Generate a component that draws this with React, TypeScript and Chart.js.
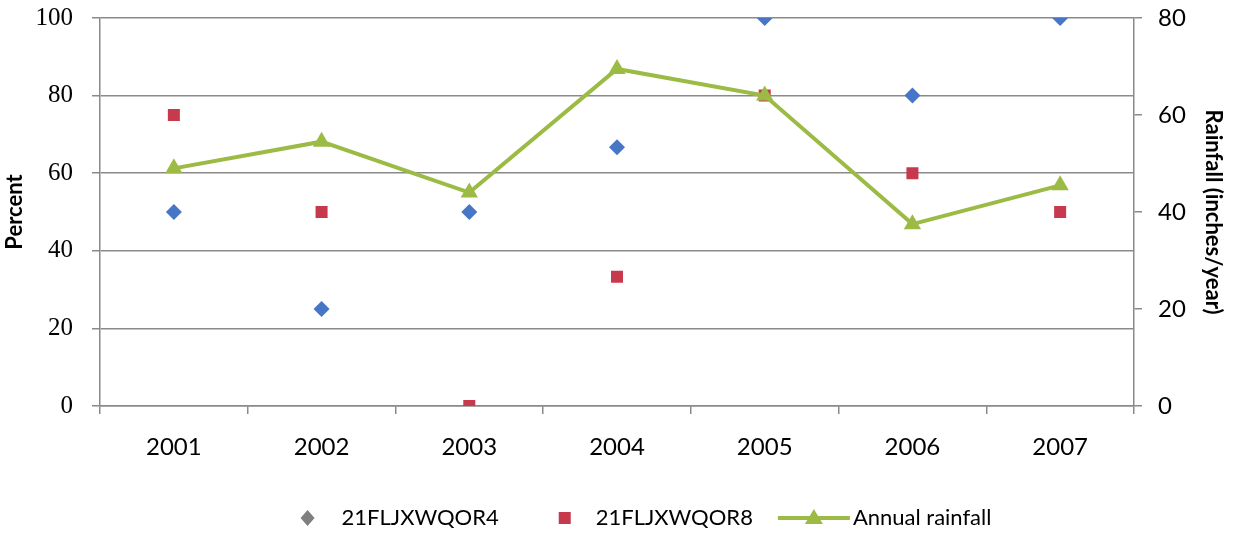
import React, { useEffect, useRef } from "react";
import { Chart, registerables } from "chart.js";

Chart.register(...registerables);

const years = ["2001", "2002", "2003", "2004", "2005", "2006", "2007"];
const seriesOR4 = [50, 25, 50, 66.7, 100, 80, 100];
const seriesOR8 = [75, 50, 0, 33.3, 80, 60, 50];
const rainfall = [49, 54.5, 44, 69.5, 64, 37.5, 45.5];
const percentTicks = [0, 20, 40, 60, 80, 100];
const rainTicks = [0, 20, 40, 60, 80];

const BLUE = "#4776C6";
const RED = "#C73A4E";
const GREEN = "#9CBB45";
const GRID = "#8a8a8a";
const SANS = "Lato, 'Open Sans', sans-serif";

const legendPlugin = {
  id: "customLegend",
  afterDraw(chart: any) {
    const ctx = chart.ctx as CanvasRenderingContext2D;
    ctx.save();
    ctx.font = `22px ${SANS}`;
    ctx.textBaseline = "middle";
    ctx.fillStyle = "#000";
    const labels = ["21FLJXWQOR4", "21FLJXWQOR8", "Annual rainfall"];
    const w = labels.map((l) => ctx.measureText(l).width);
    const total = 18 + 25 + w[0] + 57 + 18 + 22 + w[1] + 25 + 72 + 3 + w[2];
    let x = 645 - total / 2;
    const y = 518;
    ctx.fillStyle = "#7F7F7F";
    ctx.beginPath();
    ctx.moveTo(x + 9, y - 8);
    ctx.lineTo(x + 16, y);
    ctx.lineTo(x + 9, y + 8);
    ctx.lineTo(x + 2, y);
    ctx.closePath();
    ctx.fill();
    x += 18 + 25;
    ctx.fillStyle = "#000";
    ctx.fillText(labels[0], x, y);
    x += w[0] + 57;
    ctx.fillStyle = RED;
    ctx.fillRect(x + 3, y - 6, 12, 12);
    x += 18 + 22;
    ctx.fillStyle = "#000";
    ctx.fillText(labels[1], x, y);
    x += w[1] + 25;
    ctx.strokeStyle = GREEN;
    ctx.lineWidth = 4;
    ctx.beginPath();
    ctx.moveTo(x, y);
    ctx.lineTo(x + 72, y);
    ctx.stroke();
    ctx.fillStyle = GREEN;
    ctx.beginPath();
    ctx.moveTo(x + 36, y - 9);
    ctx.lineTo(x + 45, y + 6);
    ctx.lineTo(x + 27, y + 6);
    ctx.closePath();
    ctx.fill();
    x += 72 + 3;
    ctx.fillStyle = "#000";
    ctx.fillText(labels[2], x, y);
    ctx.restore();
  },
};

export default function App() {
  const canvasRef = useRef<HTMLCanvasElement | null>(null);

  useEffect(() => {
    if (!canvasRef.current) return;
    const chart = new Chart(canvasRef.current, {
      type: "line",
      data: {
        labels: years,
        datasets: [
          {
            label: "21FLJXWQOR4",
            data: seriesOR4,
            yAxisID: "y",
            showLine: false,
            pointStyle: "rectRot",
            pointRadius: 8,
            pointBackgroundColor: BLUE,
            pointBorderColor: BLUE,
            pointBorderWidth: 0,
            order: 2,
          },
          {
            label: "21FLJXWQOR8",
            data: seriesOR8,
            yAxisID: "y",
            showLine: false,
            pointStyle: "rect",
            pointRadius: 8.5,
            pointBackgroundColor: RED,
            pointBorderColor: RED,
            pointBorderWidth: 0,
            order: 1,
          },
          {
            label: "Annual rainfall",
            data: rainfall,
            yAxisID: "y1",
            borderColor: GREEN,
            borderWidth: 4,
            pointStyle: "triangle",
            pointRadius: 10,
            pointBackgroundColor: GREEN,
            pointBorderColor: GREEN,
            pointBorderWidth: 0,
            tension: 0,
            order: 0,
          },
        ],
      },
      options: {
        responsive: false,
        animation: false,
        layout: { padding: { top: 18, left: 0, right: 0, bottom: 0 } },
        plugins: {
          legend: { display: false },
          tooltip: { enabled: false },
        },
        scales: {
          x: {
            offset: true,
            grid: {
              offset: true,
              drawOnChartArea: false,
              drawTicks: true,
              tickLength: 8,
              color: GRID,
              lineWidth: 1.5,
            },
            border: { display: true, color: GRID, width: 1.5 },
            ticks: {
              color: "#000",
              font: { family: SANS, size: 24 },
              padding: 19,
            },
            afterFit: (s: any) => {
              s.height = 128;
            },
          },
          y: {
            position: "left",
            min: 0,
            max: 100,
            afterBuildTicks: (s: any) => {
              s.ticks = percentTicks.map((v) => ({ value: v }));
            },
            grid: {
              color: GRID,
              lineWidth: 1.5,
              tickLength: 8,
            },
            border: { display: true, color: GRID, width: 1.5 },
            ticks: {
              color: "#000",
              font: { family: "'Liberation Serif', serif", size: 25 },
              padding: 19,
            },
            title: {
              display: true,
              text: "Percent",
              color: "#000",
              font: { family: SANS, size: 22, weight: "bold" },
              padding: { top: 2, bottom: 0 },
            },
            afterFit: (s: any) => {
              s.width = 100;
              s.paddingTop = 0;
              s.paddingBottom = 0;
            },
          },
          y1: {
            position: "right",
            min: 0,
            max: 80,
            afterBuildTicks: (s: any) => {
              s.ticks = rainTicks.map((v) => ({ value: v }));
            },
            grid: {
              drawOnChartArea: false,
              color: GRID,
              lineWidth: 1.5,
              tickLength: 8,
            },
            border: { display: true, color: GRID, width: 1.5 },
            ticks: {
              color: "#000",
              font: { family: SANS, size: 24 },
              padding: 16,
            },
            title: {
              display: true,
              text: "Rainfall (inches/year)",
              color: "#000",
              font: { family: SANS, size: 22, weight: "bold" },
              padding: { top: 13, bottom: 0 },
            },
            afterFit: (s: any) => {
              s.width = 105;
              s.paddingTop = 0;
              s.paddingBottom = 0;
            },
          },
        },
      },
      plugins: [legendPlugin],
    });
    return () => chart.destroy();
  }, []);

  return (
    <div style={{ position: "fixed", left: 0, top: 0, width: 1239, height: 534, background: "#fff" }}>
      <canvas ref={canvasRef} width={1239} height={534} style={{ display: "block" }} />
    </div>
  );
}
